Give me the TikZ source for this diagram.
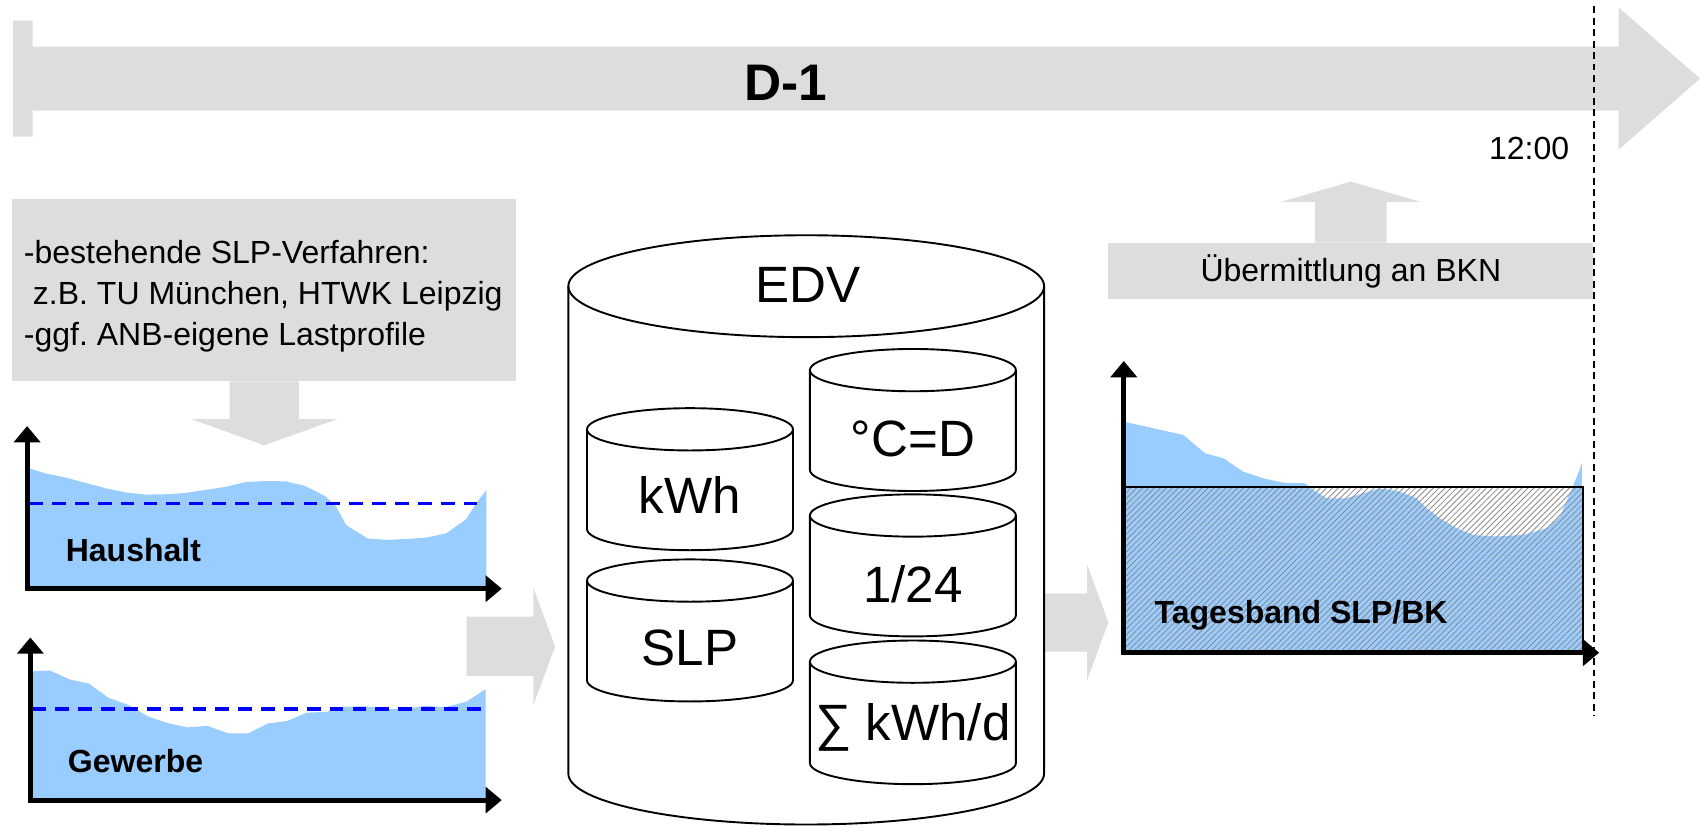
\documentclass[tikz,border=0pt]{standalone}
\usepackage{fontspec}
\setmainfont{Liberation Sans}
\usetikzlibrary{arrows.meta,patterns.meta}
\definecolor{bargrey}{HTML}{DDDDDD}
\definecolor{loadblue}{HTML}{99CCFF}
\frenchspacing

\begin{document}
\begin{tikzpicture}
  \tikzstyle{greybox} = [fill=bargrey, inner sep=0pt]
  \tikzstyle{smalltext} = [font=\fontsize{8.4}{10.8}\selectfont, inner sep=0pt]
  \tikzstyle{boldtext} = [font=\fontsize{8.4}{10.8}\selectfont\bfseries, inner sep=0pt]
  \tikzstyle{bigtext} = [font=\fontsize{13.4}{16}\selectfont, inner sep=0pt]
  \tikzstyle{axis} = [line width=1.3pt, >={Triangle[length=1.5mm, width=2.4mm]}, <->]
  \tikzstyle{average} = [blue, line width=0.9pt, dash pattern=on 3.6pt off 2.4pt]
  \tikzstyle{deadline} = [line width=0.5pt, dash pattern=on 1.8pt off 1.2pt]
  \tikzstyle{hatch} = [pattern={Lines[angle=45, distance=1.1pt, line width=0.22pt]}, pattern color=black!45]

  % drum: #1 half width, #2 rim radius, #3 height (origin = centre of the lid)
  \def\drum#1#2#3{
    \draw[line width=0.5pt, fill=white] (-#1,0) -- (-#1,-#3)
      arc[start angle=180, end angle=360, x radius=#1, y radius=#2] -- (#1,0)
      arc[start angle=0, end angle=180, x radius=#1, y radius=#2] -- cycle;
    \draw[line width=0.5pt] (-#1,0) arc[start angle=180, end angle=360, x radius=#1, y radius=#2];
  }

  \path[use as bounding box, fill=white] (0,0) rectangle (15.68,7.66);

  % time line
  \fill[bargrey] (0.12,7.47) -- (0.30,7.47) -- (0.30,7.23) -- (14.93,7.23) -- (14.93,7.59)
    -- (15.68,6.935) -- (14.93,6.28) -- (14.93,6.64) -- (0.30,6.64) -- (0.30,6.40) -- (0.12,6.40) -- cycle;
  \node[font=\fontsize{13.5}{16}\selectfont\bfseries, inner sep=0pt, anchor=base] (day) at (7.25,6.733) {D-1};
  \node[smalltext, anchor=base east] (noon) at (14.48,6.19) {12:00};

  % profile sources
  \node[greybox, minimum width=4.645cm, minimum height=1.67cm] (verfahren) at (2.4375,4.985) {};
  \node[smalltext, anchor=west, align=left] (verfahrentext) at (0.214,4.93)
    {-bestehende SLP-Verfahren:\\\hspace*{0.28em}z.B. TU München, HTWK Leipzig\\-ggf. ANB-eigene Lastprofile};
  \begin{scope}[shift={(verfahren.south)}]
    \fill[bargrey] (-0.32,0) -- (-0.32,-0.35) -- (-0.67,-0.35) -- (0,-0.59) -- (0.67,-0.35) -- (0.32,-0.35) -- (0.32,0) -- cycle;
  \end{scope}

  % Haushalt
  \begin{scope}[shift={(0.25,2.23)}]
    \fill[loadblue] (0,0) -- (0,1.116) -- (0.178,1.061) -- (0.36,1.024) -- (0.54,0.975) -- (0.738,0.923)
      -- (0.92,0.886) -- (1.10,0.868) -- (1.28,0.871) -- (1.46,0.883) -- (1.644,0.911) -- (1.825,0.938)
      -- (2.02,0.984) -- (2.204,0.993) -- (2.385,0.99) -- (2.566,0.947) -- (2.747,0.855) -- (2.846,0.763)
      -- (2.945,0.585) -- (3.143,0.462) -- (3.324,0.45) -- (3.505,0.459) -- (3.686,0.472) -- (3.867,0.511)
      -- (4.048,0.64) -- (4.147,0.794) -- (4.236,0.911) -- (4.236,0) -- cycle;
    \draw[average] (0.02,0.788) -- (4.236,0.788);
    \draw[axis] (0,1.50) |- (4.378,0);
    \node[boldtext, anchor=base west] (haushalt) at (0.35,0.25) {Haushalt};
  \end{scope}

  % Gewerbe
  \begin{scope}[shift={(0.28,0.28)}]
    \fill[loadblue] (0,0) -- (0,1.187) -- (0.18,1.196) -- (0.36,1.114) -- (0.54,1.074) -- (0.72,0.944)
      -- (0.906,0.877) -- (1.087,0.77) -- (1.268,0.71) -- (1.45,0.67) -- (1.63,0.685) -- (1.828,0.615)
      -- (2.01,0.615) -- (2.19,0.707) -- (2.37,0.73) -- (2.55,0.807) -- (2.73,0.813) -- (2.915,0.862)
      -- (3.096,0.865) -- (3.277,0.84) -- (3.458,0.84) -- (3.64,0.87) -- (3.82,0.856) -- (4.02,0.907)
      -- (4.20,1.023) -- (4.20,0) -- cycle;
    \draw[average] (0.02,0.84) -- (4.20,0.84);
    \draw[axis] (0,1.50) |- (4.348,0);
    \node[boldtext, anchor=base west] (gewerbe) at (0.34,0.254) {Gewerbe};
  \end{scope}

  % into and out of the EDV
  \fill[bargrey] (4.304,1.972) -- (4.92,1.972) -- (4.92,2.235) -- (5.12,1.697) -- (4.92,1.158) -- (4.92,1.425) -- (4.304,1.425) -- cycle;
  \fill[bargrey] (9.638,2.188) -- (10.028,2.188) -- (10.028,2.45) -- (10.223,1.92) -- (10.028,1.39) -- (10.028,1.65) -- (9.638,1.65) -- cycle;

  % EDV
  \begin{scope}[shift={(7.436,5.02)}]
    \drum{2.194}{0.47}{4.495}
    \node[bigtext, anchor=base] (edv) at (0.02,-0.15) {EDV};
  \end{scope}

  \begin{scope}[shift={(6.364,3.70)}]
    \drum{0.95}{0.195}{0.92}
    \node[bigtext, anchor=base] (kwh) at (0,-0.774) {kWh};
  \end{scope}

  \begin{scope}[shift={(6.364,2.305)}]
    \drum{0.95}{0.195}{0.92}
    \node[bigtext, anchor=base] (slp) at (0,-0.787) {SLP};
  \end{scope}

  \begin{scope}[shift={(8.42,4.246)}]
    \drum{0.95}{0.195}{0.92}
    \node[bigtext, anchor=base] (temp) at (0,-0.793) {°C=D};
  \end{scope}

  \begin{scope}[shift={(8.42,2.905)}]
    \drum{0.95}{0.195}{0.92}
    \node[bigtext, anchor=base] (hour) at (0,-0.798) {1/24};
  \end{scope}

  \begin{scope}[shift={(8.42,1.557)}]
    \drum{0.95}{0.195}{0.935}
    \node[bigtext, anchor=base] (daysum) at (0,-0.726) {∑ kWh/d};
  \end{scope}

  % Tagesband
  \begin{scope}[shift={(10.365,1.64)}]
    \fill[loadblue] (0,0) -- (0,2.131) -- (0.549,2.008) -- (0.749,1.839) -- (0.918,1.793) -- (1.103,1.669)
      -- (1.287,1.608) -- (1.472,1.568) -- (1.671,1.562) -- (1.748,1.501) -- (1.871,1.424) -- (2.055,1.424)
      -- (2.209,1.47) -- (2.363,1.516) -- (2.547,1.486) -- (2.701,1.424) -- (2.793,1.332) -- (2.916,1.24)
      -- (3.07,1.147) -- (3.223,1.086) -- (3.438,1.071) -- (3.684,1.086) -- (3.90,1.147) -- (4.023,1.255)
      -- (4.115,1.47) -- (4.207,1.693) -- (4.225,1.75) -- (4.225,0) -- cycle;
    \fill[hatch] (0,0) rectangle (4.235,1.528);
    \draw[line width=0.6pt] (0,0) rectangle (4.235,1.528);
    \draw[axis] (0,2.69) |- (4.385,0);
    \node[boldtext, anchor=base west] (band) at (0.278,0.27) {Tagesband SLP/BK};
  \end{scope}

  % transfer
  \node[greybox, smalltext, minimum width=4.473cm, minimum height=0.516cm] (bkn) at (12.4595,5.158) {Übermittlung an BKN};
  \begin{scope}[shift={(bkn.north)}]
    \fill[bargrey] (-0.33,0) -- (-0.33,0.374) -- (-0.645,0.374) -- (0,0.562) -- (0.645,0.374) -- (0.33,0.374) -- (0.33,0) -- cycle;
  \end{scope}

  % 12:00 deadline
  \coordinate (cut) at (14.705,7.60);
  \draw[deadline] (cut) -- ++(0,-6.54);
\end{tikzpicture}
\end{document}
